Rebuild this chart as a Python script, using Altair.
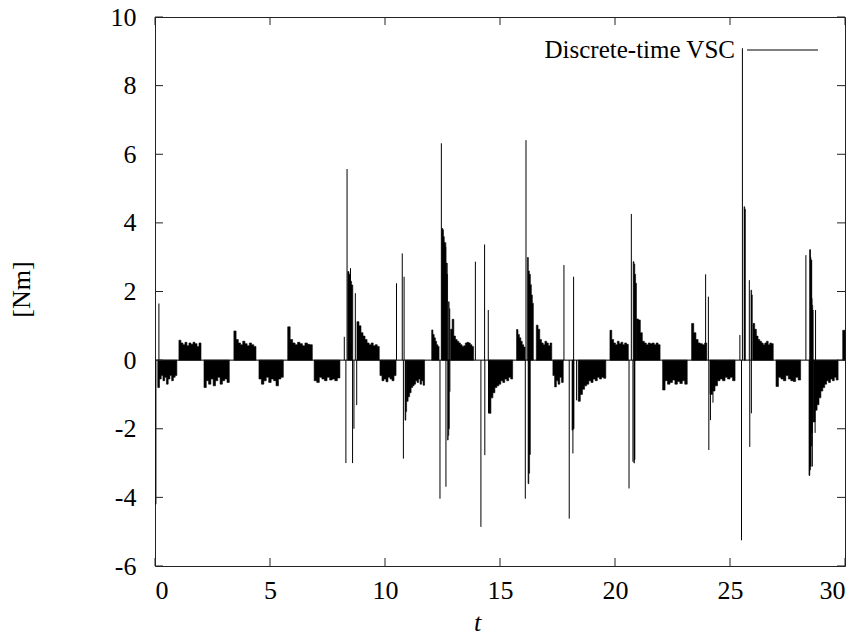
import altair as alt
import pandas as pd

# ---------------- data ----------------
x_ticks = [0, 5, 10, 15, 20, 25, 30]
y_ticks = [-6, -4, -2, 0, 2, 4, 6, 8, 10]

# chattering blocks: start time, end time, sampled envelope levels [Nm]
block_start = [0.12, 1.04, 2.13, 3.43, 4.52, 5.77, 6.92,
               8.38, 8.78, 9.78, 10.87, 10.94,
               12.03, 12.47, 12.72, 12.76, 12.85, 14.52,
               15.72, 16.19, 16.22, 16.58, 17.30, 18.13, 18.40,
               19.78, 20.79, 20.82, 20.93, 22.07,
               23.33, 24.13, 25.61, 25.91, 26.00, 27.00,
               28.47, 28.44, 28.62, 29.90]
block_end = [0.95, 2.00, 3.23, 4.39, 5.58, 6.84, 8.04,
             8.60, 9.75, 10.48, 10.94, 11.72,
             12.35, 12.72, 12.80, 12.82, 13.85, 15.55,
             16.09, 16.45, 16.32, 17.25, 17.75, 18.22, 19.60,
             20.58, 20.93, 20.87, 21.96, 23.14,
             23.99, 25.22, 25.67, 25.97, 26.88, 28.07,
             28.62, 28.62, 29.70, 30.00]
block_levels = [
    [-0.8, -0.55, -0.45, -0.6, -0.5, -0.7, -0.55, -0.45, -0.6, -0.5, -0.45],
    [0.58, 0.5, 0.45, 0.52, 0.42, 0.5, 0.46, 0.52, 0.48, 0.4, 0.5],
    [-0.8, -0.6, -0.7, -0.55, -0.75, -0.6, -0.5, -0.7, -0.6, -0.55, -0.65],
    [0.85, 0.6, 0.5, 0.45, 0.55, 0.48, 0.42, 0.5, 0.45, 0.4],
    [-0.55, -0.7, -0.6, -0.5, -0.65, -0.55, -0.6, -0.75, -0.55, -0.5],
    [0.97, 0.6, 0.5, 0.45, 0.52, 0.48, 0.42, 0.5, 0.46, 0.45],
    [-0.6, -0.65, -0.5, -0.55, -0.6, -0.5, -0.58, -0.55, -0.6, -0.52],
    [2.58, 2.5, 2.3, 2.19],
    [1.12, 1.0, 0.8, 0.7, 0.6, 0.5, 0.45, 0.5, 0.42, 0.45, 0.4],
    [-0.45, -0.6, -0.55, -0.63, -0.5, -0.55, -0.6, -0.45],
    [-1.75, -1.5],
    [-1.2, -1.07, -0.95, -0.8, -0.75, -0.7, -0.6, -0.65, -0.55, -0.7, -0.6, -0.73],
    [0.88, 0.75, 0.65, 0.55, 0.45, 0.4],
    [3.84, 3.8, 3.6, 3.43, 3.3, 2.83, 2.5],
    [-2.33, -2.2, -2.0],
    [1.7, 1.5],
    [0.9, 1.19, 0.7, 0.6, 0.55, 0.5, 0.45, 0.4, 0.42, 0.5, 0.52, 0.5, 0.45, 0.4],
    [-1.55, -1.1, -0.95, -0.8, -0.75, -0.7, -0.6, -0.65, -0.55, -0.6, -0.5, -0.55],
    [0.89, 0.75, 0.65, 0.55, 0.45, 0.38],
    [2.99, 2.6, 2.5, 2.2, 1.9, 1.66],
    [-3.6, -3.3, -2.75],
    [1.02, 0.9, 0.6, 0.5, 0.45, 0.55, 0.5, 0.42, 0.5],
    [-0.45, -0.78, -0.6, -0.7, -0.5, -0.65],
    [-2.04, -2.0],
    [-1.2, -1.0, -0.85, -0.75, -0.7, -0.6, -0.65, -0.55, -0.6, -0.5, -0.55, -0.5, -0.53],
    [0.87, 0.6, 0.5, 0.45, 0.55, 0.48, 0.52, 0.45, 0.5, 0.46],
    [2.87, 2.8, 2.5, 2.24],
    [-3.0, -2.9],
    [1.2, 1.17, 0.8, 0.55, 0.5, 0.45, 0.5, 0.48, 0.5, 0.45, 0.5, 0.45],
    [-0.87, -0.6, -0.7, -0.65, -0.58, -0.7, -0.62, -0.68, -0.6, -0.7],
    [1.07, 0.8, 0.6, 0.5, 0.48, 0.45, 0.5],
    [-1.0, -0.9, -0.75, -0.6, -0.55, -0.6, -0.5, -0.55, -0.5, -0.6],
    [4.47, 4.4],
    [2.04, 1.9],
    [1.07, 0.9, 0.7, 0.6, 0.55, 0.5, 0.45, 0.5, 0.55, 0.45, 0.5, 0.48],
    [-0.77, -0.5, -0.55, -0.6, -0.45, -0.55, -0.6, -0.62, -0.5, -0.58],
    [3.22, 3.0, 2.92, 1.8, 1.6, 1.46],
    [-3.36, -3.2, -3.1, -2.5, -2.12, -1.8],
    [-1.8, -1.46, -1.3, -1.1, -0.9, -0.8, -0.7, -0.6, -0.65, -0.55, -0.6, -0.5, -0.58],
    [0.87],
]

# isolated switching spikes: time, value [Nm]
spike_t = [0.04, 0.17,
           8.23, 8.30, 8.35, 8.50, 8.59, 8.65, 8.71, 8.77,
           10.50, 10.75, 10.80, 10.83,
           12.39, 12.45, 12.64, 12.65, 12.70, 12.82,
           13.93, 14.17, 14.33, 14.34, 14.49, 14.50,
           16.10, 16.13,
           17.78, 18.01, 18.17, 18.20, 18.33,
           20.61, 20.71, 20.78, 20.90,
           23.94, 24.06, 24.08, 24.15, 24.26,
           25.43, 25.50, 25.54, 25.84, 25.86, 25.93,
           28.30, 28.45, 28.48, 28.55, 28.58, 28.70, 28.72]
spike_v = [-4.2, 1.65,
           0.68, -3.0, 5.57, 2.68, -3.0, -2.0, 1.95, -1.31,
           2.24, 3.11, -2.87, 2.43,
           -4.04, 6.32, 3.43, -3.69, 2.83, -0.92,
           2.87, -4.86, 3.37, -2.77, 1.46, -1.55,
           -4.04, 6.41,
           2.77, -4.62, -2.72, 2.43, -1.17,
           -3.74, 4.26, -2.96, 2.24,
           2.5, 1.85, -2.62, -1.75, -1.24,
           0.73, -5.25, 9.09, 2.33, -2.53, -1.55,
           3.06, -3.36, 3.22, 2.92, -3.1, -2.12, 1.46]

legend_label = ["Discrete-time VSC"]
time_span = [0, 30]

# ---------------- build tables ----------------
rows = []
for b, (t0, t1, levels) in enumerate(zip(block_start, block_end, block_levels)):
    n = len(levels)
    dt = (t1 - t0) / n
    for i, v in enumerate(levels):
        rows.append({"block": b, "t": t0 + i * dt, "v": v, "base": 0.0})
    rows.append({"block": b, "t": t1, "v": levels[-1], "base": 0.0})
blocks = pd.DataFrame(rows)
spikes = pd.DataFrame({"t": spike_t, "v": spike_v, "base": [0.0] * len(spike_t)})
zero_line = pd.DataFrame({"t": [time_span[0]], "t1": [time_span[1]], "v": [0.0]})

FONT = "Liberation Serif"
W, H = 690, 549

xscale = alt.Scale(domain=[0, 30], nice=False, zero=False)
yscale = alt.Scale(domain=[-6, 10], nice=False, zero=False)

xaxis = alt.Axis(values=x_ticks, title="t", grid=False, domain=False, ticks=False,
                 tickSize=0, labelPadding=11, labelExpr="'' + datum.value",
                 titleFontStyle="italic",
                 titleX=322, titleY=56, titleBaseline="middle", titleAlign="center")
yaxis = alt.Axis(values=y_ticks, title="[Nm]", grid=False, domain=False, ticks=False,
                 tickSize=0, labelPadding=19, labelExpr="'' + datum.value",
                 titleAngle=270,
                 titleX=-134, titleY=272, titleBaseline="middle", titleAlign="center")

X = lambda f: alt.X(f, scale=xscale, axis=xaxis)
Y = lambda f: alt.Y(f, scale=yscale, axis=yaxis)

areas = alt.Chart(blocks).mark_area(
    color="black", interpolate="step-after", stroke="black", strokeWidth=0.6
).encode(
    x=X("t:Q"), y=Y("v:Q"), y2="base:Q", detail="block:N",
)

zero = alt.Chart(zero_line).mark_rule(color="black", strokeWidth=1).encode(
    x=X("t:Q"), x2="t1:Q", y=Y("v:Q"),
)

spk = alt.Chart(spikes).mark_rule(color="black", strokeWidth=1).encode(
    x=X("t:Q"), y=Y("v:Q"), y2="base:Q",
)

xt = pd.DataFrame({"t": x_ticks})
yt = pd.DataFrame({"v": y_ticks})
tick_style = dict(color="#222222", strokeWidth=1)
xtick_bottom = alt.Chart(xt).mark_rule(**tick_style).encode(
    x=X("t:Q"), y=alt.value(H), y2=alt.value(H - 8))
xtick_top = alt.Chart(xt).mark_rule(**tick_style).encode(
    x=X("t:Q"), y=alt.value(0), y2=alt.value(8))
ytick_left = alt.Chart(yt).mark_rule(**tick_style).encode(
    y=Y("v:Q"), x=alt.value(0), x2=alt.value(8))
ytick_right = alt.Chart(yt).mark_rule(**tick_style).encode(
    y=Y("v:Q"), x=alt.value(W - 8), x2=alt.value(W))

leg_text = alt.Chart(pd.DataFrame({"label": legend_label})).mark_text(
    align="right", baseline="middle", font=FONT, fontSize=25, color="black"
).encode(text="label:N", x=alt.value(580), y=alt.value(33))
leg_line = alt.Chart(pd.DataFrame({"label": legend_label})).mark_rule(
    color="black", strokeWidth=1
).encode(x=alt.value(592), x2=alt.value(663), y=alt.value(33))

chart = alt.layer(
    areas, zero, spk, xtick_bottom, xtick_top, ytick_left, ytick_right, leg_text, leg_line
).properties(
    width=W, height=H,
    autosize=alt.AutoSizeParams(type="none"),
    padding={"left": 155, "top": 17, "right": 20, "bottom": 70},
    background="white",
).configure_view(
    stroke="#222222", strokeWidth=1
).configure_axis(
    labelFont=FONT, labelFontSize=26, labelColor="black",
    titleFont=FONT, titleFontSize=26, titleFontWeight="normal", titleColor="black",
)

chart.save("out.html", embed_options={"renderer": "svg", "actions": False})
